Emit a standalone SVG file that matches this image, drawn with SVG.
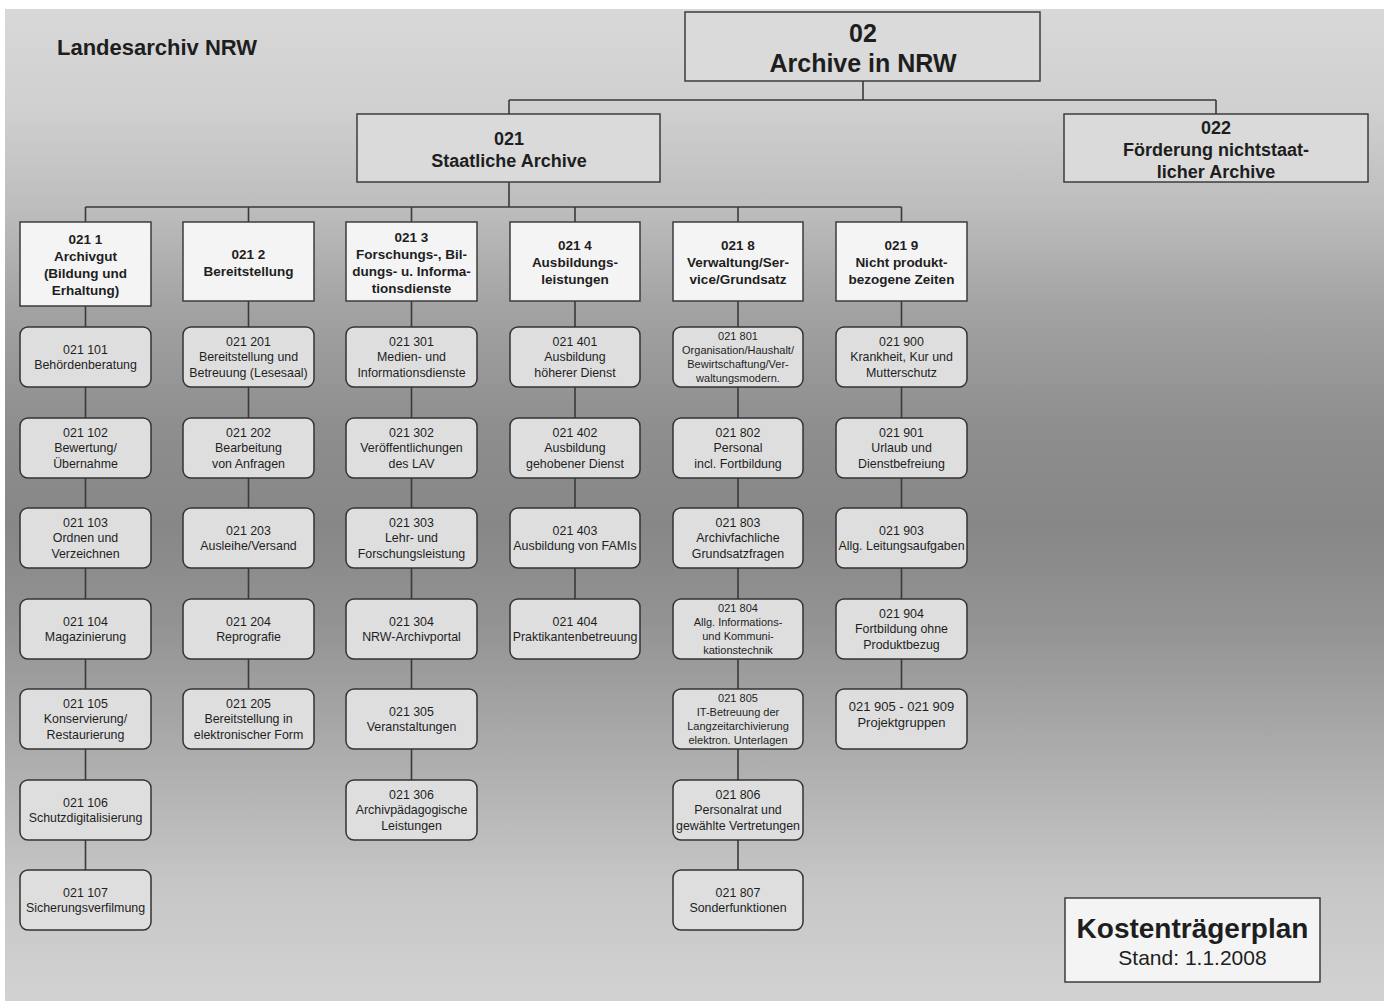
<svg xmlns="http://www.w3.org/2000/svg" width="1389" height="1001" viewBox="0 0 1389 1001">
<defs>
<linearGradient id="bg" x1="0" y1="9" x2="0" y2="1001" gradientUnits="userSpaceOnUse">
<stop offset="0" stop-color="#d8d8d8"/>
<stop offset="0.1" stop-color="#d0d0d0"/>
<stop offset="0.2" stop-color="#bdbdbd"/>
<stop offset="0.3" stop-color="#a3a3a3"/>
<stop offset="0.42" stop-color="#8e8e8e"/>
<stop offset="0.52" stop-color="#878787"/>
<stop offset="0.62" stop-color="#939393"/>
<stop offset="0.75" stop-color="#acacac"/>
<stop offset="0.88" stop-color="#c6c6c6"/>
<stop offset="1" stop-color="#d2d2d2"/>
</linearGradient>
<style>
.top{fill:#dadada;stroke:#3c3c3c;stroke-width:1.5}
.l2{fill:#f4f4f4;stroke:#3c3c3c;stroke-width:1.5}
.l3{fill:#dedede;stroke:#333;stroke-width:1.5}
.c{fill:none;stroke:#3a3a3a;stroke-width:1.6}
text{font-family:"Liberation Sans",Arial,sans-serif;fill:#1e1e1e;text-anchor:middle}
.b{font-weight:bold}
.t0{font-size:25px;font-weight:bold}
.t1{font-size:18px;font-weight:bold}
.t2{font-size:13.5px;font-weight:bold}
.t3{font-size:12.4px}
.ts{font-size:11px}
</style>
</defs>
<rect x="0" y="0" width="1389" height="1001" fill="#ffffff"/>
<rect x="5" y="9" width="1379" height="992" fill="url(#bg)"/>
<text x="57" y="55" class="b" style="font-size:22px;text-anchor:start">Landesarchiv NRW</text>

<g id="connectors">
<path class="c" d="M863,81V100M509,100H1216M509,100V114M1216,100V114"/>
<path class="c" d="M509,182V207M85.5,207H901.5M85.5,207V222M248.5,207V222M411.5,207V222M575,207V222M738,207V222M901.5,207V222"/>
<path class="c" d="M85.5,306V870M248.5,301V689M411.5,301V780M575,301V599M738,301V870M901.5,301V689"/>
</g>

<g id="n02"><rect class="top" x="685" y="12" width="355" height="69"/>
<text class="t0" x="863" y="42">02</text><text class="t0" x="863" y="72">Archive in NRW</text></g>
<g id="n021"><rect class="top" x="357" y="114" width="303" height="68"/>
<text class="t1" x="509" y="144.5">021</text><text class="t1" x="509" y="166.5">Staatliche Archive</text></g>
<g id="n022"><rect class="top" x="1064" y="114" width="304" height="68"/>
<text class="t1" x="1216" y="133.5">022</text><text class="t1" x="1216" y="155.5">Förderung nichtstaat-</text><text class="t1" x="1216" y="177.5">licher Archive</text></g>

<g id="n0211"><rect class="l2" x="20" y="222" width="131" height="84"/>
<text class="t2" x="85.5" y="243.5"><tspan x="85.5">021 1</tspan><tspan x="85.5" dy="17">Archivgut</tspan><tspan x="85.5" dy="17">(Bildung und</tspan><tspan x="85.5" dy="17">Erhaltung)</tspan></text></g>
<g id="n0212"><rect class="l2" x="183" y="222" width="131" height="79"/>
<text class="t2" x="248.5" y="258.5"><tspan x="248.5">021 2</tspan><tspan x="248.5" dy="17">Bereitstellung</tspan></text></g>
<g id="n0213"><rect class="l2" x="346" y="222" width="131" height="79"/>
<text class="t2" x="411.5" y="241.5"><tspan x="411.5">021 3</tspan><tspan x="411.5" dy="17">Forschungs-, Bil-</tspan><tspan x="411.5" dy="17">dungs- u. Informa-</tspan><tspan x="411.5" dy="17">tionsdienste</tspan></text></g>
<g id="n0214"><rect class="l2" x="510" y="222" width="130" height="79"/>
<text class="t2" x="575" y="250"><tspan x="575">021 4</tspan><tspan x="575" dy="17">Ausbildungs-</tspan><tspan x="575" dy="17">leistungen</tspan></text></g>
<g id="n0218"><rect class="l2" x="673" y="222" width="130" height="79"/>
<text class="t2" x="738" y="250"><tspan x="738">021 8</tspan><tspan x="738" dy="17">Verwaltung/Ser-</tspan><tspan x="738" dy="17">vice/Grundsatz</tspan></text></g>
<g id="n0219"><rect class="l2" x="836" y="222" width="131" height="79"/>
<text class="t2" x="901.5" y="250"><tspan x="901.5">021 9</tspan><tspan x="901.5" dy="17">Nicht produkt-</tspan><tspan x="901.5" dy="17">bezogene Zeiten</tspan></text></g>

<g id="n021101"><rect class="l3" x="20" y="327" width="131" height="60" rx="8"/>
<text class="t3" y="353.6"><tspan x="85.5">021 101</tspan><tspan x="85.5" dy="15.5">Behördenberatung</tspan></text></g>
<g id="n021102"><rect class="l3" x="20" y="418" width="131" height="60" rx="8"/>
<text class="t3" y="436.9"><tspan x="85.5">021 102</tspan><tspan x="85.5" dy="15.5">Bewertung/</tspan><tspan x="85.5" dy="15.5">Übernahme</tspan></text></g>
<g id="n021103"><rect class="l3" x="20" y="508" width="131" height="60" rx="8"/>
<text class="t3" y="526.9"><tspan x="85.5">021 103</tspan><tspan x="85.5" dy="15.5">Ordnen und</tspan><tspan x="85.5" dy="15.5">Verzeichnen</tspan></text></g>
<g id="n021104"><rect class="l3" x="20" y="599" width="131" height="60" rx="8"/>
<text class="t3" y="625.6"><tspan x="85.5">021 104</tspan><tspan x="85.5" dy="15.5">Magazinierung</tspan></text></g>
<g id="n021105"><rect class="l3" x="20" y="689" width="131" height="60" rx="8"/>
<text class="t3" y="707.9"><tspan x="85.5">021 105</tspan><tspan x="85.5" dy="15.5">Konservierung/</tspan><tspan x="85.5" dy="15.5">Restaurierung</tspan></text></g>
<g id="n021106"><rect class="l3" x="20" y="780" width="131" height="60" rx="8"/>
<text class="t3" y="806.6"><tspan x="85.5">021 106</tspan><tspan x="85.5" dy="15.5">Schutzdigitalisierung</tspan></text></g>
<g id="n021107"><rect class="l3" x="20" y="870" width="131" height="60" rx="8"/>
<text class="t3" y="896.6"><tspan x="85.5">021 107</tspan><tspan x="85.5" dy="15.5">Sicherungsverfilmung</tspan></text></g>

<g id="n021201"><rect class="l3" x="183" y="327" width="131" height="60" rx="8"/>
<text class="t3" y="345.9"><tspan x="248.5">021 201</tspan><tspan x="248.5" dy="15.5">Bereitstellung und</tspan><tspan x="248.5" dy="15.5">Betreuung (Lesesaal)</tspan></text></g>
<g id="n021202"><rect class="l3" x="183" y="418" width="131" height="60" rx="8"/>
<text class="t3" y="436.9"><tspan x="248.5">021 202</tspan><tspan x="248.5" dy="15.5">Bearbeitung</tspan><tspan x="248.5" dy="15.5">von Anfragen</tspan></text></g>
<g id="n021203"><rect class="l3" x="183" y="508" width="131" height="60" rx="8"/>
<text class="t3" y="534.6"><tspan x="248.5">021 203</tspan><tspan x="248.5" dy="15.5">Ausleihe/Versand</tspan></text></g>
<g id="n021204"><rect class="l3" x="183" y="599" width="131" height="60" rx="8"/>
<text class="t3" y="625.6"><tspan x="248.5">021 204</tspan><tspan x="248.5" dy="15.5">Reprografie</tspan></text></g>
<g id="n021205"><rect class="l3" x="183" y="689" width="131" height="60" rx="8"/>
<text class="t3" y="707.9"><tspan x="248.5">021 205</tspan><tspan x="248.5" dy="15.5">Bereitstellung in</tspan><tspan x="248.5" dy="15.5">elektronischer Form</tspan></text></g>

<g id="n021301"><rect class="l3" x="346" y="327" width="131" height="60" rx="8"/>
<text class="t3" y="345.9"><tspan x="411.5">021 301</tspan><tspan x="411.5" dy="15.5">Medien- und</tspan><tspan x="411.5" dy="15.5">Informationsdienste</tspan></text></g>
<g id="n021302"><rect class="l3" x="346" y="418" width="131" height="60" rx="8"/>
<text class="t3" y="436.9"><tspan x="411.5">021 302</tspan><tspan x="411.5" dy="15.5">Veröffentlichungen</tspan><tspan x="411.5" dy="15.5">des LAV</tspan></text></g>
<g id="n021303"><rect class="l3" x="346" y="508" width="131" height="60" rx="8"/>
<text class="t3" y="526.9"><tspan x="411.5">021 303</tspan><tspan x="411.5" dy="15.5">Lehr- und</tspan><tspan x="411.5" dy="15.5">Forschungsleistung</tspan></text></g>
<g id="n021304"><rect class="l3" x="346" y="599" width="131" height="60" rx="8"/>
<text class="t3" y="625.6"><tspan x="411.5">021 304</tspan><tspan x="411.5" dy="15.5">NRW-Archivportal</tspan></text></g>
<g id="n021305"><rect class="l3" x="346" y="689" width="131" height="60" rx="8"/>
<text class="t3" y="715.6"><tspan x="411.5">021 305</tspan><tspan x="411.5" dy="15.5">Veranstaltungen</tspan></text></g>
<g id="n021306"><rect class="l3" x="346" y="780" width="131" height="60" rx="8"/>
<text class="t3" y="798.9"><tspan x="411.5">021 306</tspan><tspan x="411.5" dy="15.5">Archivpädagogische</tspan><tspan x="411.5" dy="15.5">Leistungen</tspan></text></g>

<g id="n021401"><rect class="l3" x="510" y="327" width="130" height="60" rx="8"/>
<text class="t3" y="345.9"><tspan x="575">021 401</tspan><tspan x="575" dy="15.5">Ausbildung</tspan><tspan x="575" dy="15.5">höherer Dienst</tspan></text></g>
<g id="n021402"><rect class="l3" x="510" y="418" width="130" height="60" rx="8"/>
<text class="t3" y="436.9"><tspan x="575">021 402</tspan><tspan x="575" dy="15.5">Ausbildung</tspan><tspan x="575" dy="15.5">gehobener Dienst</tspan></text></g>
<g id="n021403"><rect class="l3" x="510" y="508" width="130" height="60" rx="8"/>
<text class="t3" y="534.6"><tspan x="575">021 403</tspan><tspan x="575" dy="15.5">Ausbildung von FAMIs</tspan></text></g>
<g id="n021404"><rect class="l3" x="510" y="599" width="130" height="60" rx="8"/>
<text class="t3" y="625.6"><tspan x="575">021 404</tspan><tspan x="575" dy="15.5">Praktikantenbetreuung</tspan></text></g>

<g id="n021801"><rect class="l3" x="673" y="327" width="130" height="60" rx="8"/>
<text class="ts" y="340.4"><tspan x="738">021 801</tspan><tspan x="738" dy="13.7">Organisation/Haushalt/</tspan><tspan x="738" dy="13.7">Bewirtschaftung/Ver-</tspan><tspan x="738" dy="13.7">waltungsmodern.</tspan></text></g>
<g id="n021802"><rect class="l3" x="673" y="418" width="130" height="60" rx="8"/>
<text class="t3" y="436.9"><tspan x="738">021 802</tspan><tspan x="738" dy="15.5">Personal</tspan><tspan x="738" dy="15.5">incl. Fortbildung</tspan></text></g>
<g id="n021803"><rect class="l3" x="673" y="508" width="130" height="60" rx="8"/>
<text class="t3" y="526.9"><tspan x="738">021 803</tspan><tspan x="738" dy="15.5">Archivfachliche</tspan><tspan x="738" dy="15.5">Grundsatzfragen</tspan></text></g>
<g id="n021804"><rect class="l3" x="673" y="599" width="130" height="60" rx="8"/>
<text class="ts" y="612.4"><tspan x="738">021 804</tspan><tspan x="738" dy="13.7">Allg. Informations-</tspan><tspan x="738" dy="13.7">und Kommuni-</tspan><tspan x="738" dy="13.7">kationstechnik</tspan></text></g>
<g id="n021805"><rect class="l3" x="673" y="689" width="130" height="60" rx="8"/>
<text class="ts" y="702.4"><tspan x="738">021 805</tspan><tspan x="738" dy="13.7">IT-Betreuung der</tspan><tspan x="738" dy="13.7">Langzeitarchivierung</tspan><tspan x="738" dy="13.7">elektron. Unterlagen</tspan></text></g>
<g id="n021806"><rect class="l3" x="673" y="780" width="130" height="60" rx="8"/>
<text class="t3" y="798.9"><tspan x="738">021 806</tspan><tspan x="738" dy="15.5">Personalrat und</tspan><tspan x="738" dy="15.5">gewählte Vertretungen</tspan></text></g>
<g id="n021807"><rect class="l3" x="673" y="870" width="130" height="60" rx="8"/>
<text class="t3" y="896.6"><tspan x="738">021 807</tspan><tspan x="738" dy="15.5">Sonderfunktionen</tspan></text></g>

<g id="n021900"><rect class="l3" x="836" y="327" width="131" height="60" rx="8"/>
<text class="t3" y="345.9"><tspan x="901.5">021 900</tspan><tspan x="901.5" dy="15.5">Krankheit, Kur und</tspan><tspan x="901.5" dy="15.5">Mutterschutz</tspan></text></g>
<g id="n021901"><rect class="l3" x="836" y="418" width="131" height="60" rx="8"/>
<text class="t3" y="436.9"><tspan x="901.5">021 901</tspan><tspan x="901.5" dy="15.5">Urlaub und</tspan><tspan x="901.5" dy="15.5">Dienstbefreiung</tspan></text></g>
<g id="n021903"><rect class="l3" x="836" y="508" width="131" height="60" rx="8"/>
<text class="t3" y="534.6"><tspan x="901.5">021 903</tspan><tspan x="901.5" dy="15.5">Allg. Leitungsaufgaben</tspan></text></g>
<g id="n021904"><rect class="l3" x="836" y="599" width="131" height="60" rx="8"/>
<text class="t3" y="617.9"><tspan x="901.5">021 904</tspan><tspan x="901.5" dy="15.5">Fortbildung ohne</tspan><tspan x="901.5" dy="15.5">Produktbezug</tspan></text></g>
<g id="n021905"><rect class="l3" x="836" y="689" width="131" height="60" rx="8"/>
<text class="t3" style="font-size:13px" y="710.5"><tspan x="901.5">021 905 - 021 909</tspan><tspan x="901.5" dy="16">Projektgruppen</tspan></text></g>

<g id="legend"><rect x="1065" y="898" width="255" height="84" fill="#f4f4f4" stroke="#3c3c3c" stroke-width="1.5"/>
<text x="1192.5" y="938" class="b" style="font-size:28px">Kostenträgerplan</text>
<text x="1192.5" y="965" style="font-size:21px">Stand: 1.1.2008</text></g>
</svg>
